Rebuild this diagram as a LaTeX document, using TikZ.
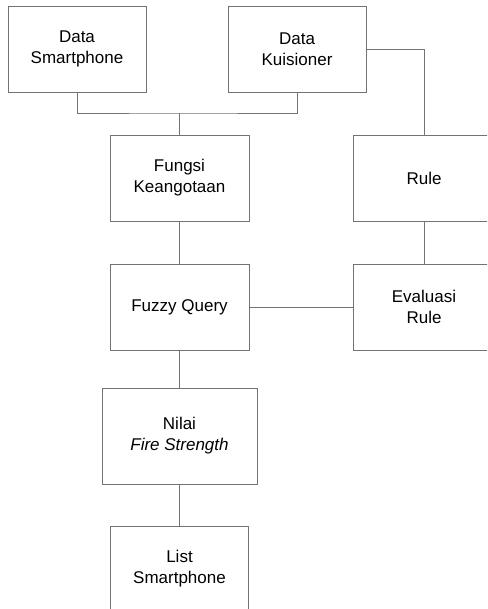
\documentclass[tikz,border=0pt]{standalone}
\usepackage{fontspec}
\setmainfont{Liberation Sans}
\begin{document}
\begin{tikzpicture}[x=1pt,y=-1pt,
  box/.style={draw=black!55, line width=0.8pt, align=center, inner sep=0pt,
    font=\fontsize{17}{21}\selectfont},
  link/.style={draw=black!55, line width=0.8pt}]
\clip (0,0) rectangle (487,609);
\fill[white] (0,0) rectangle (487,609);
\node[box, minimum width=138pt, minimum height=86pt] (ds) at (77,49) {Data\\Smartphone};
\node[box, minimum width=138pt, minimum height=86pt] (dk) at (297,49) {Data\\Kuisioner};
\node[box, minimum width=139pt, minimum height=86pt] (fk) at (179.5,178) {Fungsi\\Keangotaan};
\node[box, minimum width=139pt, minimum height=86pt] (fq) at (179.5,307) {Fuzzy Query};
\node[box, minimum width=142pt, minimum height=86pt] (ru) at (424,178) {Rule};
\node[box, minimum width=142pt, minimum height=86pt] (er) at (424,307) {Evaluasi\\Rule};
\node[box, minimum width=155pt, minimum height=96pt] (nf) at (179.5,436) {Nilai\\\textit{Fire Strength}};
\node[box, minimum width=138pt, minimum height=86pt] (ls) at (179.5,569) {List\\Smartphone};
\coordinate (j) at (179.5,113);
\draw[link] (ds.south) |- (j) -| (dk.south);
\draw[link] (j) -- (fk.north);
\draw[link] (dk.east) -| (ru.north);
\draw[link] (fk.south) -- (fq.north);
\draw[link] (ru.south) -- (er.north);
\draw[link] (fq.east) -- (er.west);
\draw[link] (fq.south) -- (nf.north);
\draw[link] (nf.south) -- (ls.north);
\end{tikzpicture}
\end{document}
